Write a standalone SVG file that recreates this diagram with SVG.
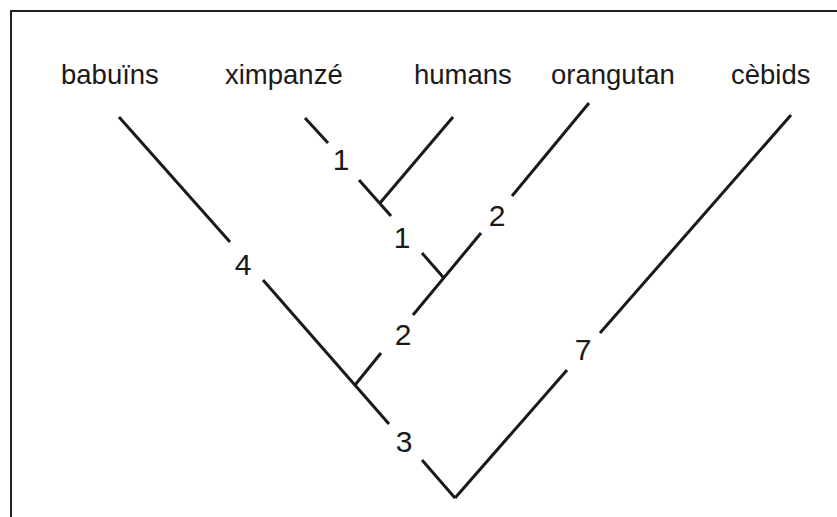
<svg xmlns="http://www.w3.org/2000/svg" width="837" height="517" viewBox="0 0 837 517">
  <style>
    .frame { fill: none; stroke: #222; stroke-width: 2; }
    .branch { fill: none; stroke: #1a1a1a; stroke-width: 3; stroke-linecap: butt; }
    .taxon { font-family: "Liberation Sans", Arial, Helvetica, sans-serif; font-size: 27.5px; fill: #1a1a1a; }
    .len { font-family: "Liberation Sans", Arial, Helvetica, sans-serif; font-size: 30px; fill: #1a1a1a; text-anchor: middle; }
  </style>
  <rect width="837" height="517" fill="#fff"/>
  <!-- open frame: top and left edges only -->
  <path class="frame" d="M11,517 V11 H837"/>

  <g id="babuins"><text class="taxon" x="61" y="84">babuïns</text></g>
  <g id="ximpanze"><text class="taxon" x="225" y="84">ximpanzé</text></g>
  <g id="humans"><text class="taxon" x="414" y="84">humans</text></g>
  <g id="orangutan"><text class="taxon" x="551" y="84">orangutan</text></g>
  <g id="cebids"><text class="taxon" x="731" y="84">cèbids</text></g>

  <g id="connectors">
    <!-- babuïns down to the root -->
    <path class="branch" d="M119,117 L230,242 M263,280 L389,424 M422,460 L455,498"/>
    <!-- root up to cèbids -->
    <path class="branch" d="M455,498 L567,370 M600,333 L791,115"/>
    <!-- orangutan lineage -->
    <path class="branch" d="M355,385 L381,353 M413,315 L481,233 M512,196 L589,103"/>
    <!-- ximpanzé lineage -->
    <path class="branch" d="M305,118 L328,143 M359,180 L391,216 M422,253 L443,277"/>
    <!-- humans -->
    <path class="branch" d="M380,203 L453,117"/>
  </g>

  <g id="lengths">
    <text class="len" x="341" y="170">1</text>
    <text class="len" x="402" y="248">1</text>
    <text class="len" x="497" y="226">2</text>
    <text class="len" x="243" y="275">4</text>
    <text class="len" x="403" y="345">2</text>
    <text class="len" x="404" y="452">3</text>
    <text class="len" x="583" y="360">7</text>
  </g>
</svg>
